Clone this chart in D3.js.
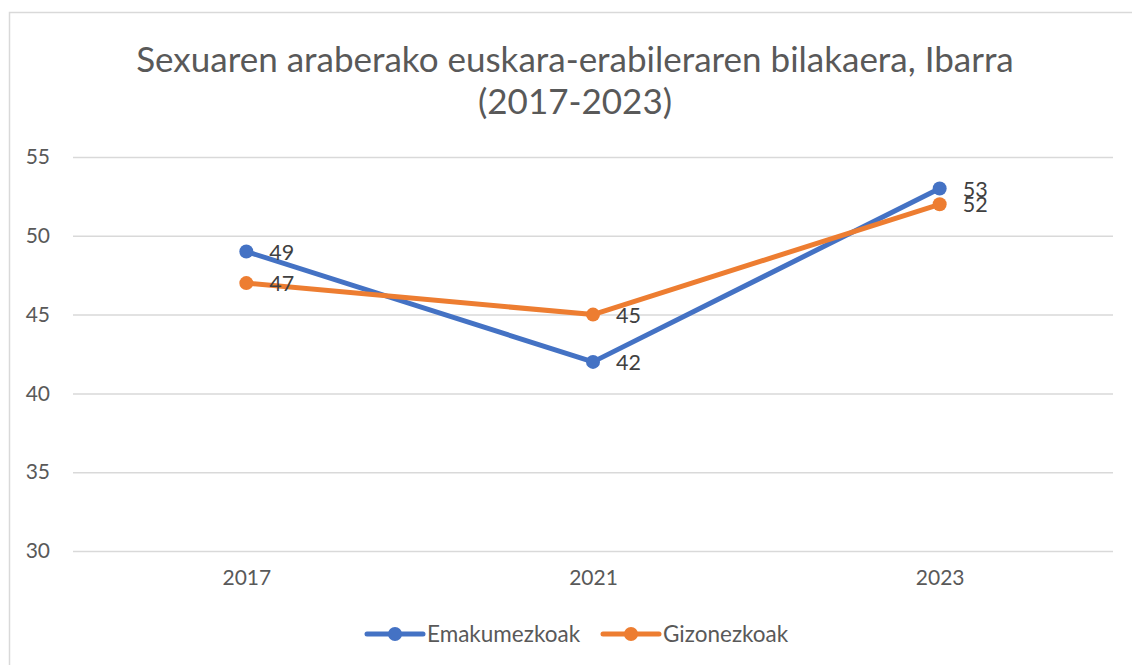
<!DOCTYPE html>
<html>
<head>
<meta charset="utf-8">
<script src="https://cdn.jsdelivr.net/npm/d3@7"></script>
<style>
	body { margin: 0; background: #fff; }
	text { font-family: Lato, "Noto Sans", sans-serif; }
</style>
</head>
<body>
<div id="chartDiv"></div>
<script>
;(function() {

	var width = 1132;
	var height = 665;
	var margin = { top: 157, right: 19, bottom: 114, left: 73 };

	// data
	var years = ["2017", "2021", "2023"];
	var emakumezkoak = [49, 42, 53];
	var gizonezkoak = [47, 45, 52];
	var yTicks = [30, 35, 40, 45, 50, 55];
	var titleLines = ["Sexuaren araberako euskara-erabileraren bilakaera, Ibarra", "(2017-2023)"];

	var series = [
		{ name: "Emakumezkoak", values: emakumezkoak, color: "#4472C4" },
		{ name: "Gizonezkoak", values: gizonezkoak, color: "#ED7D31" }
	];

	var chartWidth = width - margin.left - margin.right;
	var chartHeight = height - margin.top - margin.bottom;

	var svg = d3.select("#chartDiv").append("svg")
		.attr("width", width)
		.attr("height", height);

	// outer border
	svg.append("rect")
		.attr("x", 9.5).attr("y", 12.5)
		.attr("width", width + 10).attr("height", height + 10)
		.attr("fill", "none")
		.attr("stroke", "#d9d9d9")
		.attr("stroke-width", 1.5);

	// title
	svg.append("text")
		.attr("text-anchor", "middle")
		.attr("fill", "#595959")
		.style("font-size", "35px")
		.selectAll("tspan")
		.data(titleLines)
		.enter().append("tspan")
			.attr("x", 575)
			.attr("y", function(d, i) { return 72 + i * 42; })
			.text(function(d) { return d; });

	var plot = svg.append("g")
		.attr("transform", "translate(" + margin.left + "," + margin.top + ")");

	var xScale = d3.scalePoint()
		.domain(years)
		.range([0, chartWidth])
		.padding(0.5);

	var yScale = d3.scaleLinear()
		.domain([30, 55])
		.range([chartHeight, 0]);

	// gridlines + y labels
	var yAxis = d3.axisLeft(yScale)
		.tickValues(yTicks)
		.tickSize(-chartWidth)
		.tickPadding(23);

	plot.append("g")
		.attr("class", "y axis")
		.call(yAxis)
		.call(function(g) {
			g.select(".domain").remove();
			g.selectAll(".tick line").attr("stroke", "#d9d9d9").attr("stroke-width", 1.5);
			g.selectAll(".tick text")
				.attr("fill", "#595959")
				.style("font-size", "21px")
				.style("font-family", "Lato, 'Noto Sans', sans-serif");
		});

	var xAxis = d3.axisBottom(xScale)
		.tickSize(0)
		.tickPadding(19);

	plot.append("g")
		.attr("class", "x axis")
		.attr("transform", "translate(0," + chartHeight + ")")
		.call(xAxis)
		.call(function(g) {
			g.select(".domain").remove();
			g.selectAll(".tick text")
				.attr("fill", "#595959")
				.style("font-size", "21px")
				.style("font-family", "Lato, 'Noto Sans', sans-serif");
		});

	var line = d3.line()
		.x(function(d, i) { return xScale(years[i]); })
		.y(function(d) { return yScale(d); });

	series.forEach(function(s) {
		plot.append("path")
			.datum(s.values)
			.attr("d", line)
			.attr("fill", "none")
			.attr("stroke", s.color)
			.attr("stroke-width", 5)
			.attr("stroke-linejoin", "round")
			.attr("stroke-linecap", "round");

		plot.selectAll(".dot-" + s.name)
			.data(s.values)
			.enter().append("circle")
				.attr("cx", function(d, i) { return xScale(years[i]); })
				.attr("cy", function(d) { return yScale(d); })
				.attr("r", 7)
				.attr("fill", s.color);

		plot.selectAll(".lbl-" + s.name)
			.data(s.values)
			.enter().append("text")
				.attr("x", function(d, i) { return xScale(years[i]) + 23; })
				.attr("y", function(d) { return yScale(d) + 8; })
				.attr("fill", "#404040")
				.style("font-size", "21.5px")
				.text(function(d) { return d; });
	});

	// legend
	var legendX = [367, 603];
	var legend = svg.selectAll(".legend")
		.data(series)
		.enter().append("g")
			.attr("class", "legend")
			.attr("transform", function(d, i) { return "translate(" + legendX[i] + ",634)"; });

	legend.append("line")
		.attr("x1", 0).attr("x2", 56)
		.attr("stroke", function(d) { return d.color; })
		.attr("stroke-width", 5)
		.attr("stroke-linecap", "round");

	legend.append("circle")
		.attr("cx", 28)
		.attr("r", 7)
		.attr("fill", function(d) { return d.color; });

	legend.append("text")
		.attr("x", 60)
		.attr("y", 8)
		.attr("fill", "#595959")
		.style("font-size", "22.5px")
		.text(function(d) { return d.name; });

})();
</script>
</body>
</html>
